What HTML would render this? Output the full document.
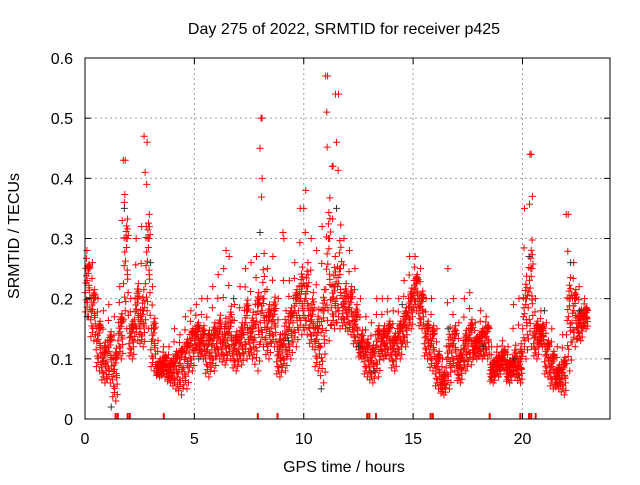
<!DOCTYPE html>
<html><head><meta charset="utf-8"><style>
body{margin:0;background:#fff}
svg text{font-family:"Liberation Sans",sans-serif;font-size:16px;fill:#000}
</style></head><body>
<svg id="c" width="640" height="480">
<text x="344" y="34" text-anchor="middle">Day 275 of 2022, SRMTID for receiver p425</text>
<text x="344" y="472" text-anchor="middle">GPS time / hours</text>
<text transform="translate(19,236) rotate(-90)" text-anchor="middle">SRMTID / TECUs</text>
<g id="grid"></g>
<g id="marks"></g>
<rect x="85" y="58" width="525" height="361" fill="none" stroke="#000"/>
<g id="ticks"></g>
</svg>
<script>
const xTicks=[0,5,10,15,20];
const yTicks=[0,0.1,0.2,0.3,0.4,0.5,0.6];
const yTickLabels=["0","0.1","0.2","0.3","0.4","0.5","0.6"];
const binStart=0, binWidth=0.25;
const lowVals=[0.17,0.13,0.08,0.06,0.06,0.03,0.1,0.15,0.1,0.13,0.12,0.15,0.08,0.07,0.07,0.06,0.05,0.04,0.05,0.08,0.11,0.1,0.07,0.08,0.1,0.09,0.1,0.08,0.09,0.1,0.1,0.08,0.12,0.1,0.12,0.07,0.08,0.1,0.12,0.14,0.14,0.12,0.08,0.06,0.13,0.15,0.15,0.15,0.14,0.12,0.1,0.07,0.06,0.07,0.1,0.1,0.08,0.1,0.12,0.15,0.18,0.15,0.1,0.08,0.05,0.04,0.05,0.08,0.06,0.08,0.09,0.1,0.1,0.1,0.06,0.07,0.08,0.06,0.07,0.06,0.1,0.12,0.1,0.12,0.07,0.05,0.05,0.04,0.08,0.12,0.13,0.15];
const midVals=[0.25,0.2,0.15,0.11,0.13,0.1,0.16,0.3,0.15,0.2,0.18,0.3,0.15,0.09,0.1,0.09,0.1,0.11,0.12,0.14,0.15,0.14,0.13,0.14,0.15,0.14,0.16,0.13,0.14,0.18,0.15,0.19,0.2,0.17,0.18,0.12,0.14,0.17,0.2,0.22,0.22,0.18,0.15,0.18,0.3,0.22,0.25,0.2,0.2,0.17,0.13,0.12,0.11,0.14,0.14,0.15,0.13,0.15,0.17,0.2,0.23,0.2,0.15,0.14,0.1,0.07,0.12,0.14,0.1,0.13,0.15,0.13,0.14,0.15,0.09,0.1,0.11,0.09,0.1,0.1,0.2,0.25,0.15,0.15,0.12,0.1,0.08,0.09,0.2,0.2,0.17,0.18];
const highVals=[0.28,0.26,0.2,0.18,0.19,0.17,0.22,0.43,0.2,0.3,0.32,0.46,0.22,0.13,0.12,0.12,0.15,0.14,0.17,0.18,0.19,0.2,0.2,0.22,0.24,0.25,0.27,0.19,0.22,0.25,0.26,0.27,0.5,0.25,0.27,0.2,0.3,0.23,0.26,0.35,0.38,0.3,0.28,0.32,0.57,0.42,0.54,0.3,0.28,0.25,0.2,0.17,0.16,0.2,0.2,0.2,0.18,0.2,0.23,0.27,0.27,0.25,0.2,0.2,0.15,0.1,0.25,0.2,0.16,0.2,0.21,0.16,0.18,0.17,0.12,0.12,0.13,0.12,0.19,0.2,0.35,0.44,0.2,0.18,0.16,0.15,0.12,0.14,0.34,0.26,0.22,0.2];
const spikeTimes=[1.75,1.8,1.7,2.7,2.75,2.8,8.05,8.0,8.1,11.0,11.05,11.45,11.5,11.3,20.4,20.45,22.0,10.0,6.45,9.05];
const spikeVals=[0.43,0.36,0.33,0.47,0.41,0.32,0.5,0.45,0.4,0.57,0.51,0.54,0.46,0.42,0.44,0.37,0.34,0.35,0.28,0.31];
const blackTimes=[0.1,1.2,1.8,3.0,5.2,6.8,8.0,9.3,10.8,11.5,12.5,13.2,14.5,16.6,18.2,19.6,20.3,21.0,22.2,22.6];
const blackVals=[0.17,0.02,0.35,0.26,0.1,0.2,0.31,0.13,0.05,0.35,0.12,0.08,0.19,0.15,0.12,0.1,0.27,0.18,0.26,0.18];
const rugTimes=[1.4,1.5,1.95,2.05,3.6,7.9,8.8,12.9,13.0,13.3,15.8,15.9,18.5,19.9,20.3,20.4,20.6];
const X=t=>85+t*525/24, Y=v=>419-v*361/0.6;
const NS="http://www.w3.org/2000/svg";
const grid=document.getElementById('grid'),ticks=document.getElementById('ticks'),marks=document.getElementById('marks');
function ln(p,x1,y1,x2,y2,st,dash){const l=document.createElementNS(NS,'line');l.setAttribute('x1',x1);l.setAttribute('y1',y1);l.setAttribute('x2',x2);l.setAttribute('y2',y2);l.setAttribute('stroke',st);if(dash)l.setAttribute('stroke-dasharray',dash);p.appendChild(l);return l;}
function tx(p,x,y,s,a){const t=document.createElementNS(NS,'text');t.setAttribute('x',x);t.setAttribute('y',y);t.setAttribute('text-anchor',a);t.textContent=s;p.appendChild(t);return t;}
xTicks.forEach(v=>{const x=X(v);
 const g=ln(grid,x,58,x,419,'#a0a0a0','2,3');
 
 
 const t=tx(ticks,x,444,String(v),'middle');
 
 
 ln(ticks,x,419,x,413,'#000');ln(ticks,x,58,x,64,'#000');});
yTicks.forEach((v,i)=>{const y=Y(v);
 const g=ln(grid,85,y,610,y,'#a0a0a0','2,3');
 
 
 const t=tx(ticks,73,y+6,yTickLabels[i],'end');
 
 
 ln(ticks,85,y,91,y,'#000');ln(ticks,610,y,604,y,'#000');});
function plus(x,y,c){const p=document.createElementNS(NS,'path');p.setAttribute('d',`M${x-3.5},${y}h7M${x},${y-3.5}v7`);p.setAttribute('stroke',c);p.setAttribute('fill','none');
 
 
 marks.appendChild(p);}
const spreadT=[0.02,0.2,0.11,0.07,0.16,0.04,0.22,0.13,0.09,0.18,0.01,0.15,0.06,0.23,0.1,0.19];
const spreadF=[0.1,0.55,0.3,0.85,0.0,0.7,0.4,1.0,0.2,0.65,0.5,0.9,0.35,0.15,0.75,0.6];
lowVals.forEach((lo,i)=>{const t=binStart+i*binWidth;const mid=midVals[i],hi=highVals[i];
 spreadT.forEach((o,k)=>{const f=spreadF[k];
  plus(X(t+o),Y(lo+(mid-lo)*f),'#f00');
  if(k%2===0) plus(X(t+spreadT[(k+5)%16]),Y(mid+(hi-mid)*f*f),'#f00');});
 plus(X(t+0.09),Y(hi),'#f00');});
spikeTimes.forEach((t,i)=>plus(X(t),Y(spikeVals[i]),'#f00'));
blackTimes.forEach((t,i)=>plus(X(t),Y(blackVals[i]),'#333'));
rugTimes.forEach(t=>{const l=ln(marks,X(t),419,X(t),413,'#f00');l.setAttribute('stroke-width','2');
 
 });
</script>
</body></html>
